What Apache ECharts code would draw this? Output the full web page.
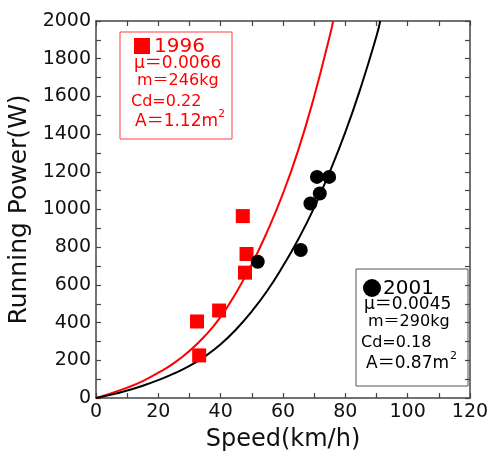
<!DOCTYPE html>
<html>
<head>
<meta charset="utf-8">
<script src="https://cdn.jsdelivr.net/npm/echarts@6/dist/echarts.min.js"></script>
<style>
  html, body { margin: 0; padding: 0; background: #fff; }
  #main { width: 491px; height: 456px; }
</style>
</head>
<body>
<div id="main"></div>
<script>
// fitted curves: [speed km/h, power W]
var curve1996 = [[0,0],[5,26],[10,55],[15,90],[20,134],[25,185],[30,250],[35,330],[40,430],[45,560],[50,710],[55,885],[60,1085],[65,1320],[70,1600],[75,1920],[76.1,2000]];
var curve2001 = [[0,0],[5,18],[10,40],[15,65],[20,95],[25,130],[30,170],[35,222],[40,285],[45,365],[50,460],[55,570],[60,700],[65,845],[70,1010],[75,1200],[80,1410],[85,1650],[90,1920],[91.2,2000]];
// measured points
var pts1996 = [[47.1,965],[48.3,764],[47.8,665],[39.5,464],[32.4,406],[33.1,226]];
var pts2001 = [[51.9,723],[65.7,785],[68.8,1032],[71.8,1085],[70.9,1173],[74.8,1173]];

var FONT = 'DejaVu Sans, "Noto Sans CJK JP", sans-serif';
var frame = '#444';

function frameAxis(pos, max, interval, show) {
  return {
    type: 'value', position: pos, min: 0, max: max, interval: interval,
    axisLine: { show: true, onZero: false, lineStyle: { color: frame, width: 1.5 } },
    axisTick: { show: true, inside: true, length: 5, lineStyle: { color: frame, width: 1.2 } },
    minorTick: { show: true, splitNumber: 2, length: 5, lineStyle: { color: frame, width: 1.2 } },
    splitLine: { show: false },
    axisLabel: { show: show, color: '#111', fontSize: 19, fontFamily: FONT, margin: 5,
      formatter: function (v) { return String(v); } }
  };
}

var xMain = frameAxis('bottom', 120, 20, true);
xMain.name = 'Speed(km/h)';
xMain.nameLocation = 'middle';
xMain.nameGap = 30;
xMain.nameTextStyle = { color: '#111', fontSize: 24, fontFamily: FONT };
var yMain = frameAxis('left', 2000, 200, true);
yMain.name = 'Running Power(W)';
yMain.nameLocation = 'middle';
yMain.nameGap = 56;
yMain.nameTextStyle = { color: '#111', fontSize: 25, fontFamily: FONT };

function txt(x, y, s, size, color) {
  return { type: 'text', x: x, y: y, z: 100,
    style: { text: s, fill: color, fontSize: size, fontFamily: FONT, align: 'left', verticalAlign: 'middle' } };
}

var red = '#ff0000';
var chart = echarts.init(document.getElementById('main'));
chart.setOption({
  animation: false,
  backgroundColor: '#fff',
  grid: { left: 96, right: 21, top: 21, bottom: 58, containLabel: false, outerBoundsMode: 'none' },
  xAxis: [xMain, frameAxis('top', 120, 20, false)],
  yAxis: [yMain, frameAxis('right', 2000, 200, false)],
  series: [
    { type: 'line', data: curve1996, smooth: 0.5, showSymbol: false, lineStyle: { color: red, width: 2 }, z: 2 },
    { type: 'line', data: curve2001, smooth: 0.5, showSymbol: false, lineStyle: { color: '#000', width: 2 }, z: 2 },
    { type: 'scatter', data: pts1996, symbol: 'rect', symbolSize: 14, itemStyle: { color: red, opacity: 1 }, z: 3 },
    { type: 'scatter', data: pts2001, symbol: 'circle', symbolSize: 14, itemStyle: { color: '#000', opacity: 1 }, z: 4 }
  ],
  graphic: [
    { type: 'rect', shape: { x: 120, y: 32, width: 112, height: 107 }, style: { fill: 'none', stroke: '#ff4040', lineWidth: 1 } },
    { type: 'rect', shape: { x: 134, y: 38, width: 16, height: 16 }, style: { fill: red } },
    txt(154, 47, '1996', 20, red),
    txt(134, 64, 'μ＝0.0066', 17, red),
    txt(137, 81, 'm＝246kg', 16, red),
    txt(131, 102, 'Cd=0.22', 16, red),
    txt(135, 122, 'A＝1.12m', 17, red),
    txt(218, 114, '2', 11, red),

    { type: 'rect', shape: { x: 356, y: 269, width: 112, height: 117 }, style: { fill: 'none', stroke: '#555', lineWidth: 1 } },
    { type: 'circle', shape: { cx: 372, cy: 288, r: 9 }, style: { fill: '#000' } },
    txt(383, 289, '2001', 20, '#000'),
    txt(364, 305, 'μ＝0.0045', 17, '#000'),
    txt(368, 322, 'm＝290kg', 16, '#000'),
    txt(361, 343, 'Cd=0.18', 16, '#000'),
    txt(366, 364, 'A＝0.87m', 17, '#000'),
    txt(450, 356, '2', 11, '#000')
  ]
});
</script>
</body>
</html>
